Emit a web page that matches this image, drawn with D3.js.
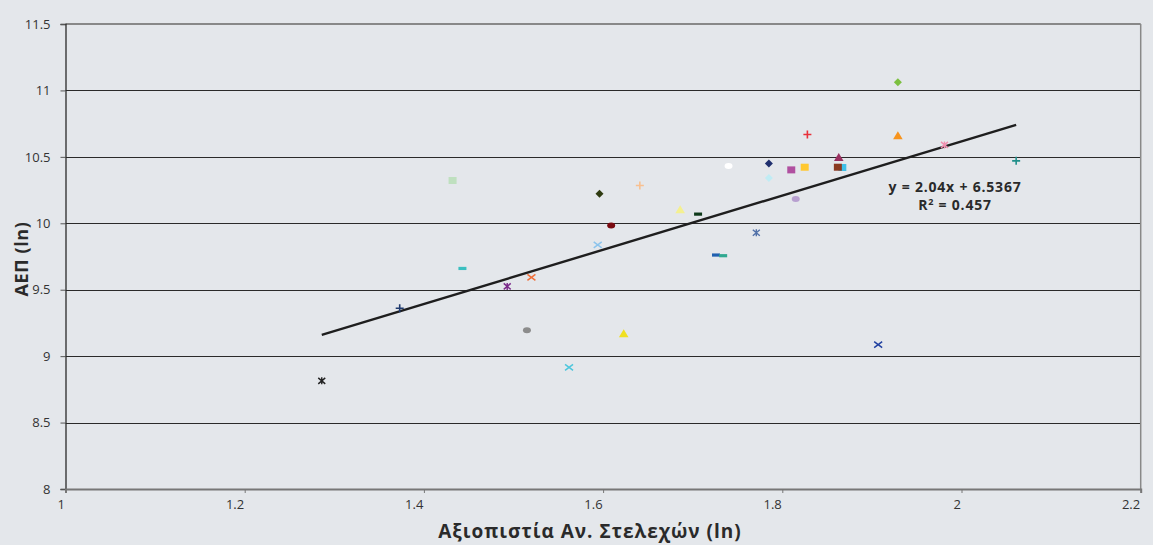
<!DOCTYPE html>
<html><head><meta charset="utf-8">
<script src="https://cdn.jsdelivr.net/npm/d3@7"></script>
<style>
html,body{margin:0;padding:0;background:#e4e7eb;}
svg{display:block;}
text{font-family:"Open Sans","Noto Sans",sans-serif;}
</style></head>
<body>
<svg id="chart" width="1153" height="545"></svg>
<script>
// ---- data ----
const xVals = [1.286,1.373,1.443,1.493,1.520,1.515,1.594,1.562,1.623,1.432,1.596,1.641,1.686,1.706,1.609,1.929,1.828,1.929,1.981,1.740,1.785,1.785,1.810,1.825,1.863,1.867,1.862,1.815,1.771,1.726,1.734,1.907,2.061];
const yVals = [8.814,9.361,9.660,9.525,9.593,9.194,9.838,8.916,9.169,10.322,10.222,10.284,10.102,10.069,9.983,11.061,10.668,10.658,10.590,10.432,10.450,10.340,10.402,10.422,10.495,10.420,10.422,10.182,9.929,9.761,9.756,9.086,10.470];
const shapes = ["star","plus","dash","star","x","circle","x","x","triangle","square","diamond","plus","triangle","dash","circle","diamond","plus","triangle","star","circle","diamond","diamond","square","square","triangle","square","square","circle","star","dash","dash","x","plus"];
const colors = ["#222222","#1f3a6e","#3bbfc0","#7b2a8a","#f0703a","#8c8c8c","#8cc4ec","#4ec6dc","#f0e020","#bfe0bf","#2e3a10","#f8c090","#f4f090","#0e3a1a","#7a0a10","#7cc040","#e8303a","#f7941d","#f090b0","#ffffff","#1f2f6e","#c0ecf4","#b050a0","#ffc830","#9a3060","#40c0e8","#8a3a20","#b8a0d0","#5070a8","#2060b0","#30a890","#2040a0","#20908a"];
const xTicks = [1,1.2,1.4,1.6,1.8,2,2.2];
const yTicks = [8,8.5,9,9.5,10,10.5,11,11.5];
const slope = 2.04, intercept = 6.5367, r2 = 0.457;
const xTitle = "Αξιοπιστία Αν. Στελεχών (ln)";
const yTitle = "ΑΕΠ (ln)";

// ---- layout ----
const svg = d3.select("#chart");
const L = 65.5, R = 1140.7, T = 24, B = 489;
const x = d3.scaleLinear().domain([1,2.2]).range([L,R]);
const y = d3.scaleLinear().domain([8,11.5]).range([B,T]);

// gridlines
svg.append("g").selectAll("line").data(yTicks.filter(v=>v>8 && v<11.5)).join("line")
  .attr("x1",L).attr("x2",R).attr("y1",d=>Math.round(y(d))+0.5).attr("y2",d=>Math.round(y(d))+0.5)
  .attr("stroke","#2a2a2a").attr("stroke-width",1.2);
// top and right border
svg.append("line").attr("x1",L).attr("x2",R).attr("y1",T).attr("y2",T).attr("stroke","#888").attr("stroke-width",2);
svg.append("line").attr("x1",R).attr("x2",R).attr("y1",T).attr("y2",B).attr("stroke","#888").attr("stroke-width",1.5);

// axes
const fmt = d3.format("~g");
const yAxis = svg.append("g").attr("transform",`translate(${L},0)`)
  .call(d3.axisLeft(y).tickValues(yTicks).tickFormat(fmt).tickSize(5).tickPadding(10));
yAxis.select(".domain").attr("stroke","#2a2a2a").attr("stroke-width",1.3);
yAxis.selectAll(".tick line").attr("stroke","#555");
yAxis.selectAll("text").attr("font-size",13).attr("fill","#333").attr("font-family","'Open Sans',sans-serif");

const xAxis = svg.append("g").attr("transform",`translate(0,${B})`)
  .call(d3.axisBottom(x).tickValues(xTicks).tickFormat(fmt).tickSize(4).tickPadding(7));
xAxis.select(".domain").attr("stroke","#777").attr("stroke-width",2);
xAxis.selectAll(".tick line").attr("stroke","#777");
xAxis.selectAll("text").attr("font-size",13).attr("fill","#333").attr("font-family","'Open Sans',sans-serif")
  .attr("text-anchor","end").attr("x",-1);

// trend line
const xmin = d3.min(xVals), xmax = d3.max(xVals);
svg.append("line")
  .attr("x1",x(xmin)).attr("y1",y(slope*xmin+intercept))
  .attr("x2",x(xmax)).attr("y2",y(slope*xmax+intercept))
  .attr("stroke","#1e1e1e").attr("stroke-width",2.4);

// markers
function markerPath(s){
  switch(s){
    case "square": return "M-4,-3.5H4V3.5H-4Z";
    case "triangle": return "M0,-4.5L4.8,3.5H-4.8Z";
    case "diamond": return "M0,-4L4,0L0,4L-4,0Z";
    case "circle": return "M-4,0A4,3 0 1,0 4,0A4,3 0 1,0 -4,0Z";
    case "dash": return "M-4,-1.6H4V1.6H-4Z";
    default: return null;
  }
}
const g = svg.append("g");
xVals.forEach((xv,i)=>{
  const s = shapes[i], c = colors[i];
  const mg = g.append("g").attr("transform",`translate(${x(xv)},${y(yVals[i])})`);
  const p = markerPath(s);
  if(p){ mg.append("path").attr("d",p).attr("fill",c); }
  else if(s==="plus"){
    mg.append("path").attr("d","M-4,0H4M0,-4V4").attr("stroke",c).attr("stroke-width",1.6).attr("fill","none");
  } else if(s==="x"){
    mg.append("path").attr("d","M-4,-3L4,3M-4,3L4,-3").attr("stroke",c).attr("stroke-width",1.5).attr("fill","none");
  } else if(s==="star"){
    mg.append("path").attr("d","M-3.5,-3L3.5,3M-3.5,3L3.5,-3M0,-3.5V3.5").attr("stroke",c).attr("stroke-width",1.4).attr("fill","none");
  }
});

// equation label
const eq = svg.append("text").attr("x",955).attr("y",192).attr("text-anchor","middle")
  .attr("font-size",14).attr("letter-spacing",0.8).attr("font-weight","bold").attr("fill","#2a2a2a");
eq.text(`y = ${slope}x + ${intercept}`);
const r = svg.append("text").attr("x",955).attr("y",210).attr("text-anchor","middle")
  .attr("font-size",14).attr("letter-spacing",0.8).attr("font-weight","bold").attr("fill","#2a2a2a");
r.append("tspan").text("R");
r.append("tspan").text("2").attr("font-size",9).attr("dy",-5);
r.append("tspan").text(` = ${r2}`).attr("dy",5);

// axis titles
svg.append("text").attr("x",590).attr("y",538).attr("text-anchor","middle")
  .attr("font-size",19).attr("letter-spacing",1).attr("font-weight","bold").attr("fill","#2a2a2a").text(xTitle);
svg.append("text").attr("transform","translate(28,259) rotate(-90)").attr("text-anchor","middle")
  .attr("font-size",18).attr("letter-spacing",0.6).attr("font-weight","bold").attr("fill","#2a2a2a").text(yTitle);
</script>
</body></html>
